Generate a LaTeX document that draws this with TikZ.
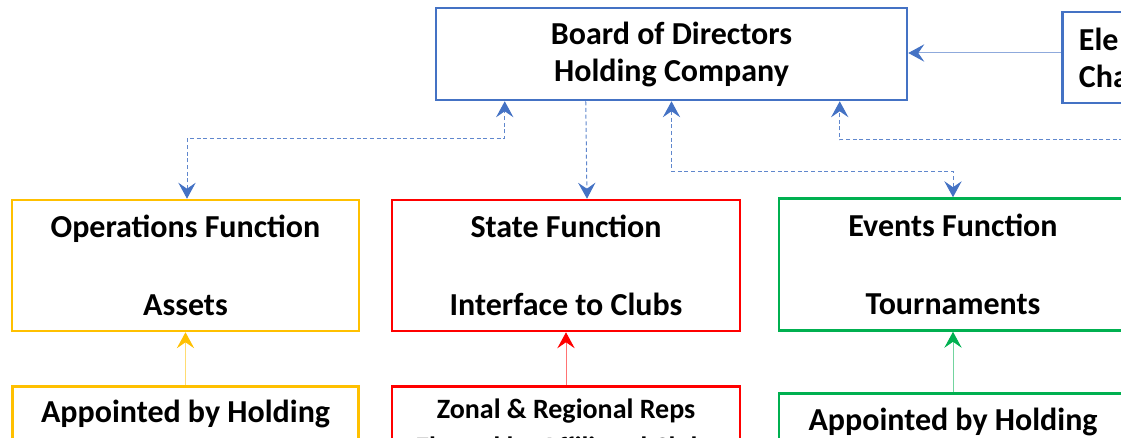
\documentclass[tikz,border=0pt]{standalone}
\usepackage{fontspec}
\setmainfont{Carlito}
\usetikzlibrary{arrows.meta,calc}
\definecolor{bdblue}{HTML}{4472C4}
\definecolor{yel}{HTML}{FFC000}
\definecolor{rd}{HTML}{FF0000}
\definecolor{grn}{HTML}{00B050}
\tikzset{
  box/.style={draw=#1, line width=1.9pt, inner sep=0pt, align=center,
    font=\fontsize{24}{29.25}\selectfont\bfseries},
  lowtxt/.style={inner sep=0pt, align=center, anchor=north},
  dconn/.style={draw=bdblue!85, line width=0.75pt, dash pattern=on 3pt off 2pt, arrows={-{Stealth[length=12pt,width=13pt,inset=4.5pt,color=bdblue]}}},
  dconnb/.style={draw=bdblue!85, line width=0.75pt, dash pattern=on 3pt off 2pt, arrows={{Stealth[length=12pt,width=13pt,inset=4.5pt,color=bdblue]}-{Stealth[length=12pt,width=13pt,inset=4.5pt,color=bdblue]}}},
  sconn/.style={draw=#1!55, line width=0.75pt, arrows={-{Stealth[length=12pt,width=13pt,inset=4.5pt,color=#1]}}},
}
\begin{document}
\begin{tikzpicture}[x=0.75pt,y=-0.75pt]
\useasboundingbox (0,0) rectangle (1121,438);
% top row
\node[box=bdblue, minimum width=353.25pt, minimum height=69pt, font=\fontsize{24}{27.75}\selectfont\bfseries] (board) at (671.5,54) {Board of Directors\\Holding Company};
\node[box=bdblue, minimum width=225pt, minimum height=68.25pt, anchor=west, align=left, text width=200pt, inner xsep=7pt, font=\fontsize{24}{27.75}\selectfont\bfseries] (elect) at (1061,57.5) {Ele\\Cha};
% middle row
\node[box=yel, minimum width=260.25pt, minimum height=98.25pt] (ops) at (185.5,265.5) {Operations Function\\[0pt]\\Assets};
\node[box=rd, minimum width=261pt, minimum height=98.25pt] (state) at (566,265.5) {State Function\\[0pt]\\Interface to Clubs};
\node[box=grn, minimum width=261pt, minimum height=99pt] (events) at (953,264.5) {Events Function\\[0pt]\\Tournaments};
% bottom row
\node[box=yel, minimum width=259.5pt, minimum height=90pt, anchor=north] (lowY) at (185.5,385) {};
\node[box=rd, minimum width=261pt, minimum height=90pt, anchor=north] (lowR) at (566,385) {};
\node[box=grn, minimum width=261pt, minimum height=90pt, anchor=north] (lowG) at (953,392) {};
\node[lowtxt, font=\fontsize{24}{29.25}\selectfont\bfseries] (lowYt) at (185.5,400) {Appointed by Holding};
\node[lowtxt, font=\fontsize{21}{28.5}\selectfont\bfseries] (lowRt) at (566,399) {Zonal \& Regional Reps\\Elected by Affiliated Clubs};
\node[lowtxt, font=\fontsize{24}{29.25}\selectfont\bfseries] (lowGt) at (953,408) {Appointed by Holding};
% connectors
\coordinate (offr) at (1130,140);
\draw[draw=bdblue!60, line width=0.75pt, arrows={-{Stealth[length=12pt,width=13pt,inset=4.5pt,color=bdblue]}}] (elect.west |- 0,53) -- (board.east |- 0,53);
\draw[dconnb] ($(ops.north)+(1.5,0)$) -- ++(0,-60) -| ($(board.south west)+(70,0)$);
\draw[dconn] ($(board.south west)+(151,0)$) -- ($(state.north)+(21,0)$);
\draw[dconnb] (board.south) -- ++(0,70) -| (events.north);
\draw[dconn] (offr) -| ($(board.south west)+(405,0)$);
\draw[sconn=yel] (lowY.north) -- (ops.south);
\draw[sconn=rd] (lowR.north) -- (state.south);
\draw[sconn=grn] (lowG.north) -- (events.south);
\end{tikzpicture}
\end{document}
